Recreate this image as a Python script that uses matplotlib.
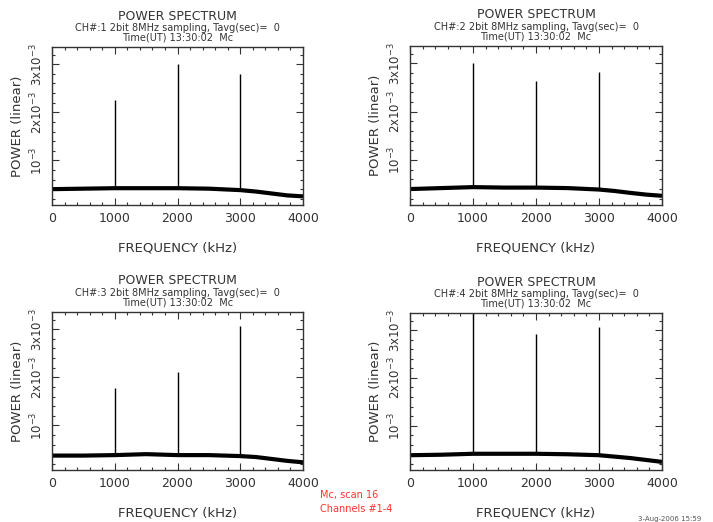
import numpy as np
import matplotlib
matplotlib.use('Agg')
import matplotlib.pyplot as plt
from matplotlib.ticker import MultipleLocator, FixedLocator

# baseline (noise floor), units of 1e-3
base_freq = [0, 500, 1000, 1500, 2000, 2500, 3000, 3250, 3500, 3750, 4000]
base_ch1 = [0.40, 0.41, 0.42, 0.42, 0.42, 0.41, 0.38, 0.35, 0.31, 0.27, 0.25]
base_ch2 = [0.40, 0.42, 0.44, 0.43, 0.43, 0.42, 0.39, 0.36, 0.32, 0.285, 0.26]
base_ch3 = [0.37, 0.37, 0.38, 0.40, 0.38, 0.38, 0.36, 0.34, 0.30, 0.26, 0.23]
base_ch4 = [0.38, 0.39, 0.41, 0.41, 0.41, 0.40, 0.38, 0.35, 0.32, 0.28, 0.24]

# test tones
peak_freq = [1000, 2000, 3000]
peak_ch1 = [2.25, 3.00, 2.79]
peak_ch2 = [3.00, 2.64, 2.82]
peak_ch3 = [1.77, 2.12, 3.07]
peak_ch4 = [3.50, 2.92, 3.06]

channels = [1, 2, 3, 4]
ytick_vals = [1e-3, 2e-3, 3e-3]
ytick_labels = [r'$10^{-3}$', r'$2x10^{-3}$', r'$3x10^{-3}$']
time_str = '13:30:02'

plt.rcParams['font.family'] = 'DejaVu Sans'
plt.rcParams['mathtext.default'] = 'regular'

W, H = 713, 522
fig = plt.figure(figsize=(W / 100, H / 100), dpi=100)

TXT = '#333333'
# axes boxes in pixels: left, top, right, bottom
boxes = [(52, 47, 303, 205), (410, 46, 662, 205),
         (52, 312, 303, 470), (410, 313, 662, 470)]
bases = [base_ch1, base_ch2, base_ch3, base_ch4]
peaks = [peak_ch1, peak_ch2, peak_ch3, peak_ch4]

for ch, (l, t, r, b), base, pk in zip(channels, boxes, bases, peaks):
    ax = fig.add_axes([l / W, 1 - b / H, (r - l) / W, (b - t) / H])
    bf = np.array(base_freq)
    bv = np.array(base) * 1e-3
    ax.plot(bf, bv, color='black', lw=3.0, solid_capstyle='butt')
    lo = np.interp(peak_freq, bf, bv)
    ax.vlines(peak_freq, lo, np.array(pk) * 1e-3, color='black', lw=1.0)

    ax.set_xlim(0, 4000)
    ax.set_ylim(0.07e-3, 3.36e-3)
    ax.xaxis.set_major_locator(MultipleLocator(1000))
    ax.xaxis.set_minor_locator(MultipleLocator(200))
    ax.yaxis.set_major_locator(FixedLocator(ytick_vals))
    ax.yaxis.set_minor_locator(MultipleLocator(0.2e-3))
    ax.set_yticklabels(ytick_labels, rotation=90, va='center')
    ax.tick_params(which='both', direction='in', top=True, right=True,
                   colors=TXT, labelcolor=TXT, labelsize=9)
    ax.tick_params(axis='y', labelsize=8.5)
    ax.tick_params(which='major', length=5, width=0.8)
    ax.tick_params(which='minor', length=2.5, width=0.8)
    ax.tick_params(axis='x', pad=5)
    ax.tick_params(axis='y', pad=5)
    for s in ax.spines.values():
        s.set_color(TXT)
        s.set_linewidth(1.0)

    ax.set_xlabel('FREQUENCY (kHz)', fontsize=9.5, color=TXT, labelpad=12)
    ax.set_ylabel('POWER (linear)', fontsize=9.5, color=TXT, labelpad=3)

    cx = (l + r) / 2 / W
    fig.text(cx, 1 - (t - 31) / H, 'POWER SPECTRUM', ha='center', va='center',
             fontsize=9, color=TXT)
    fig.text(cx, 1 - (t - 19) / H,
             'CH#:%d 2bit 8MHz sampling, Tavg(sec)=  0' % ch,
             ha='center', va='center', fontsize=7, color=TXT)
    fig.text(cx, 1 - (t - 9.5) / H, 'Time(UT) %s  Mc' % time_str,
             ha='center', va='center', fontsize=7, color=TXT)

fig.text(320 / W, 1 - 495 / H, 'Mc, scan 16', color='#ff3030', fontsize=7,
         ha='left', va='center')
fig.text(320 / W, 1 - 509 / H, 'Channels #1-4', color='#ff3030', fontsize=7,
         ha='left', va='center')
fig.text(638 / W, 1 - 519 / H, '3-Aug-2006 15:59', color='#555555',
         fontsize=5, ha='left', va='center')

fig.savefig('out.png', dpi=100)
